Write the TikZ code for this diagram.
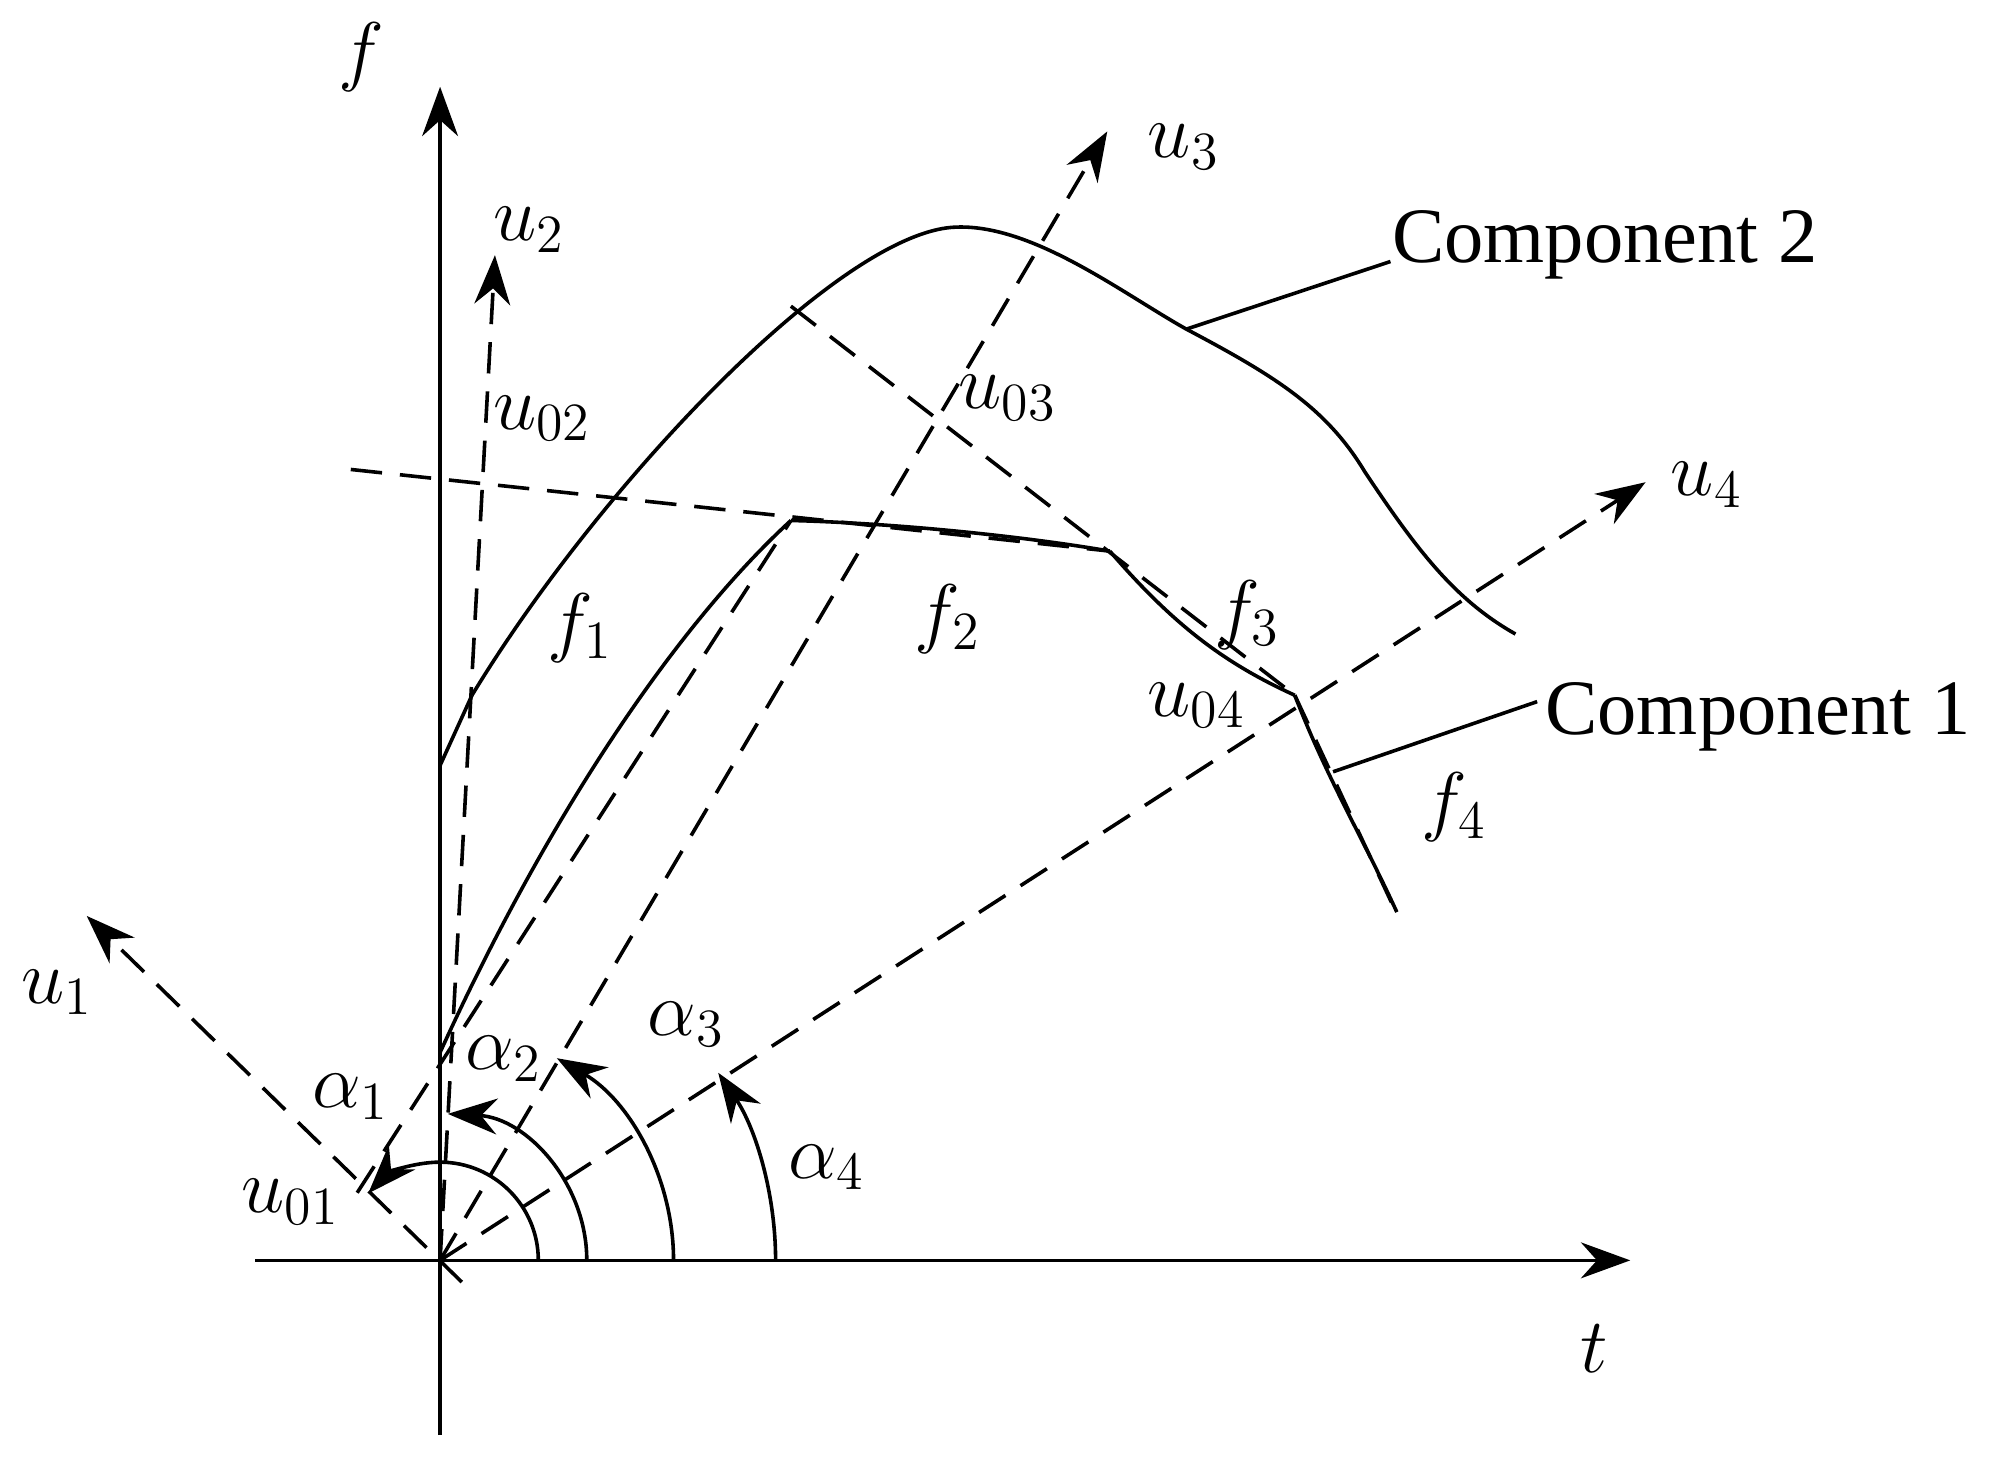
\documentclass[tikz,border=0pt]{standalone}
\usepackage{fontspec}
\setmainfont{Liberation Serif}
\usetikzlibrary{arrows.meta}
\begin{document}
\begin{tikzpicture}[x=0.01cm,y=-0.01cm,
 ar/.style={-{Stealth[length=11pt,width=8pt]}},
 dsh/.style={dashed,dash pattern=on 7pt off 4pt},
 lb/.style={font=\fontsize{18}{20}\selectfont},
 cl/.style={font=\fontsize{17.5}{20}\selectfont,anchor=west,inner sep=0pt},
 thick]
\useasboundingbox (0,0) rectangle (1560,1153);
\coordinate (O) at (345,988);
\coordinate (fb) at (345,1125); \coordinate (ft) at (345,68);
\coordinate (tl) at (200,988); \coordinate (tr) at (1278,988);
\draw[ar] (fb) -- (ft);
\draw[ar] (tl) -- (tr);
\node[lb] (fl) at (283,45) {$f$};
\node[lb] (tlb) at (1250,1057) {$t$};
% u axes
\coordinate (u1s) at (362,1005); \coordinate (u1e) at (68,718);
\coordinate (u2e) at (388,200); \coordinate (u3e) at (868,103); \coordinate (u4e) at (1290,378);
\draw[dsh,ar] (u1s) -- (u1e);
\draw[dsh,ar] (O) -- (u2e);
\draw[dsh,ar] (O) -- (u3e);
\draw[dsh,ar] (O) -- (u4e);
% chords
\coordinate (P0) at (345,825); \coordinate (P1) at (620,408); \coordinate (P2) at (870,432);
\coordinate (P3) at (1015,545); \coordinate (P4) at (1095,715);
\coordinate (c1s) at (280,935); \coordinate (c2s) at (275,368); \coordinate (c3s) at (620,240);
\draw[dsh] (c1s) -- (P1);
\draw[dsh] (c2s) -- (P2);
\draw[dsh] (c3s) -- (P3);
\draw[dsh] (P3) -- (1092,710);
% component 1
\draw (P0) .. controls (420,660) and (520,500) .. (P1);
\draw (P1) .. controls (700,410) and (800,420) .. (P2);
\draw (P2) .. controls (920,490) and (960,520) .. (P3);
\draw (P3) .. controls (1040,610) and (1070,660) .. (P4);
% component 2
\draw (345,600) -- (370,545);
\draw (370,545) .. controls (470,380) and (660,180) .. (750,178)
 .. controls (810,176) and (880,230) .. (930,258)
 .. controls (1000,295) and (1040,320) .. (1070,370)
 .. controls (1110,430) and (1140,470) .. (1188,497);
% leaders
\coordinate (l2a) at (930,258); \coordinate (l2b) at (1090,205);
\coordinate (l1a) at (1045,605); \coordinate (l1b) at (1205,550);
\draw (l2a) -- (l2b); \draw (l1a) -- (l1b);
\node[cl] (C2) at (1090,192) {Component 2};
\node[cl] (C1) at (1210,562) {Component 1};
% labels
\node[lb] (u1l) at (45,778) {$u_1$};
\node[lb] (u01l) at (228,942) {$u_{01}$};
\node[lb] (u2l) at (415,180) {$u_2$};
\node[lb] (u02l) at (425,328) {$u_{02}$};
\node[lb] (u3l) at (928,115) {$u_3$};
\node[lb] (u03l) at (790,312) {$u_{03}$};
\node[lb] (u4l) at (1338,380) {$u_4$};
\node[lb] (u04l) at (938,553) {$u_{04}$};
\node[lb] (f1l) at (455,492) {$f_1$};
\node[lb] (f2l) at (743,485) {$f_2$};
\node[lb] (f3l) at (978,482) {$f_3$};
\node[lb] (f4l) at (1140,633) {$f_4$};
% angles
\draw[ar] (O) ++(77,0) arc[start angle=0,end angle=-137,radius=77];
\draw[ar] (O) ++(115,0) arc[start angle=0,end angle=-87,radius=115];
\draw[ar] (O) ++(183,0) arc[start angle=0,end angle=-60,radius=183];
\draw[ar] (O) ++(263,0) arc[start angle=0,end angle=-34,radius=263];
\node[lb] (a1) at (275,860) {$\alpha_1$};
\node[lb] (a2) at (395,830) {$\alpha_2$};
\node[lb] (a3) at (538,803) {$\alpha_3$};
\node[lb] (a4) at (648,915) {$\alpha_4$};
\end{tikzpicture}
\end{document}
